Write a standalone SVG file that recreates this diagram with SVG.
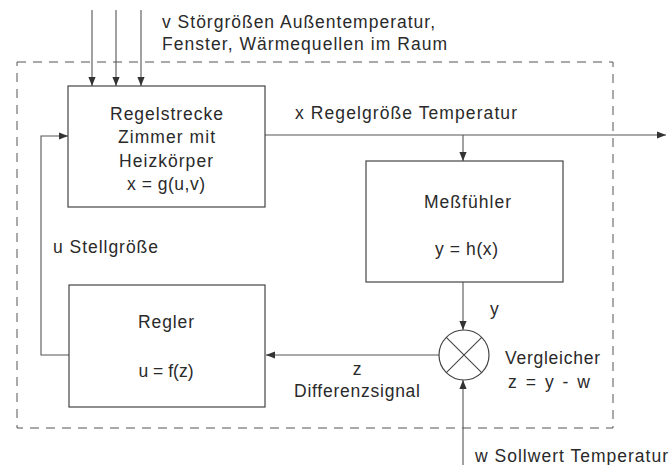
<svg xmlns="http://www.w3.org/2000/svg" width="670" height="465" viewBox="0 0 670 465">
<defs>
<marker id="ah" viewBox="0 0 10 10" refX="10" refY="5" markerWidth="9" markerHeight="9" markerUnits="userSpaceOnUse" orient="auto">
<path d="M0,1 L10,5 L0,9 Z" fill="#333"/>
</marker>
<style>
.t{font-family:"Liberation Sans",Arial,sans-serif;font-size:17.5px;fill:#2a2a2a}
.m{text-anchor:middle}
.b{fill:#fff;stroke:#444;stroke-width:1.2}
.c{fill:none;stroke:#555;stroke-width:1.1}
</style>
</defs>
<rect width="670" height="465" fill="#fff"/>
<rect x="17" y="62" width="596" height="366" fill="none" stroke="#555" stroke-width="1" stroke-dasharray="9,7"/>
<g id="connectors" class="c">
<path d="M92,10 V86" marker-end="url(#ah)"/>
<path d="M116,10 V86" marker-end="url(#ah)"/>
<path d="M141,10 V86" marker-end="url(#ah)"/>
<path d="M265,135 H666" marker-end="url(#ah)"/>
<path d="M463,135 V161" marker-end="url(#ah)"/>
<path d="M463,282 V330" marker-end="url(#ah)"/>
<path d="M439,355 H266" marker-end="url(#ah)"/>
<path d="M463,465 V380" marker-end="url(#ah)"/>
<path d="M69,355 H41 V136 H68" marker-end="url(#ah)"/>
</g>
<g id="regelstrecke">
<rect class="b" x="68" y="86" width="197" height="121"/>
<text class="t m" x="166.5" y="120" textLength="113" lengthAdjust="spacing">Regelstrecke</text>
<text class="t m" x="166.5" y="143" textLength="97" lengthAdjust="spacing">Zimmer mit</text>
<text class="t m" x="166" y="167" textLength="94" lengthAdjust="spacing">Heizkörper</text>
<text class="t m" x="166" y="190" textLength="78" lengthAdjust="spacing">x = g(u,v)</text>
</g>
<g id="messfuehler">
<rect class="b" x="366" y="161" width="197" height="121"/>
<text class="t m" x="467.5" y="208" textLength="87" lengthAdjust="spacing">Meßfühler</text>
<text class="t m" x="466.5" y="255" textLength="63" lengthAdjust="spacing">y = h(x)</text>
</g>
<g id="regler">
<rect class="b" x="69" y="285" width="196" height="122"/>
<text class="t m" x="166" y="328" textLength="56" lengthAdjust="spacing">Regler</text>
<text class="t m" x="166" y="377" textLength="55" lengthAdjust="spacing">u = f(z)</text>
</g>
<g id="vergleicher">
<circle cx="464" cy="355" r="25" fill="#fff" stroke="#444" stroke-width="1.2"/>
<path d="M446.3,337.3 L481.7,372.7 M481.7,337.3 L446.3,372.7" stroke="#444" stroke-width="1.1"/>
<text class="t" x="505" y="364" textLength="95" lengthAdjust="spacing">Vergleicher</text>
<text class="t" x="508" y="388" textLength="82" lengthAdjust="spacing">z = y - w</text>
</g>
<g id="labels">
<text class="t" x="162" y="28" textLength="273" lengthAdjust="spacing">v Störgrößen Außentemperatur,</text>
<text class="t" x="162" y="50" textLength="285" lengthAdjust="spacing">Fenster, Wärmequellen im Raum</text>
<text class="t" x="295" y="119" textLength="222" lengthAdjust="spacing">x Regelgröße Temperatur</text>
<text class="t" x="53" y="253" textLength="105" lengthAdjust="spacing">u Stellgröße</text>
<text class="t" x="490" y="315">y</text>
<text class="t m" x="357" y="375">z</text>
<text class="t" x="294" y="397" textLength="126" lengthAdjust="spacing">Differenzsignal</text>
<text class="t" x="475" y="462" textLength="193" lengthAdjust="spacing">w Sollwert Temperatur</text>
</g>
</svg>
